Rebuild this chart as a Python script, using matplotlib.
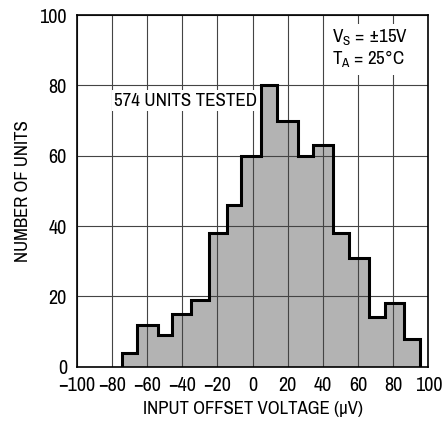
"""Input offset voltage distribution histogram."""

import matplotlib
matplotlib.use("Agg")
import matplotlib.pyplot as plt
from matplotlib import font_manager

# bin edges (uV) and unit counts
bin_edges = [-74, -65.5, -54, -46, -35, -25, -14.5, -6.5, 5, 14, 26, 34.5,
             46, 55, 66.5, 75.5, 86, 95]
unit_counts = [4, 12, 9, 15, 19, 38, 46, 60, 80, 70, 60, 63, 38, 31, 14, 18, 8]

x_ticks = [-100, -80, -60, -40, -20, 0, 20, 40, 60, 80, 100]
y_ticks = [0, 20, 40, 60, 80, 100]

# prefer a condensed face (the reference uses a narrow Helvetica)
fonts = font_manager.fontManager.ttflist
narrow = sorted({f.name for f in fonts if "Narrow" in f.name or "Condensed" in f.name})
if narrow:
    plt.rcParams["font.family"] = [narrow[0], "DejaVu Sans"]
    scale = 1.0
else:
    plt.rcParams["font.family"] = ["DejaVu Sans"]
    scale = 0.84

fig = plt.figure(figsize=(4.43, 4.21), dpi=100)
ax = fig.add_axes([0.173, 0.129, 0.794, 0.835])

ax.stairs(unit_counts, bin_edges, fill=True, color="#b3b3b3", zorder=1)
ax.stairs(unit_counts, bin_edges, fill=False, baseline=0, color="black",
          linewidth=2.2, zorder=3)

ax.set_xlim(-100, 100)
ax.set_ylim(0, 100)
ax.set_xticks(x_ticks)
ax.set_yticks(y_ticks)
ax.set_xticklabels([f"{v}".replace("-", "\u2212") for v in x_ticks])
ax.tick_params(axis="both", length=0, labelsize=14.5 * scale)
ax.tick_params(axis="x", pad=7)
ax.tick_params(axis="y", pad=7)

ax.set_axisbelow(False)
ax.grid(True, color="#444444", linewidth=0.8, zorder=2)
for spine in ax.spines.values():
    spine.set_linewidth(1.2)
    spine.set_zorder(4)

ax.set_xlabel("INPUT OFFSET VOLTAGE (\u03bcV)", fontsize=13.5 * scale, labelpad=4)
ax.set_ylabel("NUMBER OF UNITS", fontsize=13.5 * scale, labelpad=6)

ax.text(-78.5, 75.7, "574 UNITS TESTED", fontsize=13.7 * scale, va="center",
        ha="left", bbox=dict(facecolor="white", edgecolor="none", pad=2), zorder=5)
ax.text(45, 90.3, "V$_\\mathregular{S}$ = \u00b115V\nT$_\\mathregular{A}$ = 25\u00b0C",
        fontsize=13.7 * scale, va="center", ha="left", linespacing=1.05,
        bbox=dict(facecolor="white", edgecolor="none", pad=3), zorder=5)

fig.savefig("out.png", dpi=100)
